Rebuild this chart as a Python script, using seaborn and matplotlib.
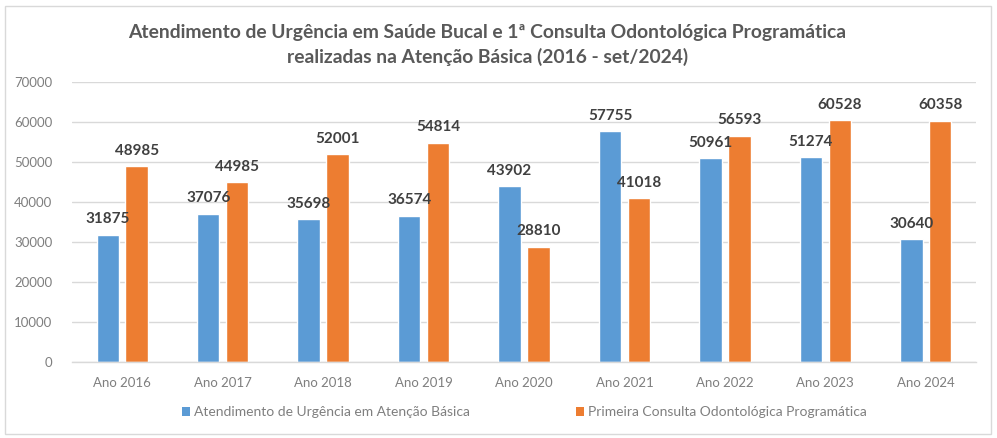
import matplotlib
matplotlib.use("Agg")
import matplotlib.pyplot as plt
import seaborn as sns
import pandas as pd
from matplotlib.patches import Rectangle, Patch

anos = ["Ano 2016", "Ano 2017", "Ano 2018", "Ano 2019", "Ano 2020",
        "Ano 2021", "Ano 2022", "Ano 2023", "Ano 2024"]
urgencia = [31875, 37076, 35698, 36574, 43902, 57755, 50961, 51274, 30640]
primeira = [48985, 44985, 52001, 54814, 28810, 41018, 56593, 60528, 60358]
series = ["Atendimento de Urgência em Atenção Básica",
          "Primeira Consulta Odontológica Programática"]
yticks = [0, 10000, 20000, 30000, 40000, 50000, 60000, 70000]
title = ("Atendimento de Urgência em Saúde Bucal e 1ª Consulta Odontológica Programática\n"
         "realizadas na Atenção Básica (2016 - set/2024)")

colors = ["#5B9BD5", "#ED7D31"]

df = pd.DataFrame({
    "ano": anos * 2,
    "valor": urgencia + primeira,
    "serie": [series[0]] * len(anos) + [series[1]] * len(anos),
})

sns.set_theme(style="white")
plt.rcParams["font.family"] = ["Lato", "DejaVu Sans"]

fig = plt.figure(figsize=(9.97, 4.38), dpi=100)
fig.patch.set_facecolor("white")
fig.patches.append(Rectangle((5 / 997, 4 / 438), 986 / 997, 428 / 438,
                             transform=fig.transFigure, fill=False,
                             edgecolor="#d9d9d9", linewidth=1.0))

ax = fig.add_axes([72 / 997, 1 - 362 / 438, (976 - 72) / 997, (362 - 82) / 438])
sns.barplot(data=df, x="ano", y="valor", hue="serie", palette=colors,
            width=0.575, gap=0.22, ax=ax, legend=False, saturation=1)

ax.set_ylim(0, 70000)
ax.set_xlim(-0.5, len(anos) - 0.5)
ax.set_yticks(yticks)
ax.set_yticklabels([str(v) for v in yticks])
ax.set_xlabel("")
ax.set_ylabel("")
ax.yaxis.grid(True, color="#d9d9d9", linewidth=1.0)
ax.set_axisbelow(True)
for s in ["top", "right", "left"]:
    ax.spines[s].set_visible(False)
ax.spines["bottom"].set_color("#d9d9d9")
ax.spines["bottom"].set_linewidth(1.0)
ax.tick_params(axis="both", length=0, colors="#7f7f7f", labelsize=9.5)
ax.tick_params(axis="y", pad=14)
ax.tick_params(axis="x", pad=11)

for cont in ax.containers:
    ax.bar_label(cont, fmt="%d", padding=6, fontsize=11, fontweight="bold",
                 color="#404040")

fig.text(0.489, 1 - 45 / 438, title, ha="center", va="center", fontsize=13.9,
         fontweight="bold", color="#595959", linespacing=1.4)

handles = [Patch(facecolor=c, edgecolor="none") for c in colors]
fig.legend(handles, series, loc="center", bbox_to_anchor=(0.526, 1 - 412 / 438),
           ncol=2, frameon=False, fontsize=10, handlelength=0.6,
           handleheight=0.6, handletextpad=0.3, columnspacing=7.6,
           labelcolor="#7f7f7f")

fig.savefig("out.png", dpi=100, facecolor="white")
